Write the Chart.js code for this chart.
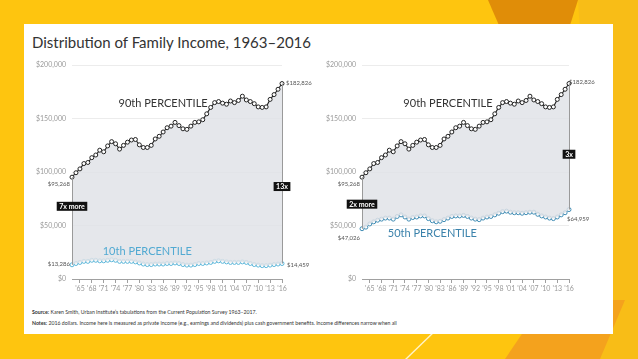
<!DOCTYPE html>
<html>
<head>
<meta charset="utf-8">
<script src="https://cdn.jsdelivr.net/npm/chart.js@4.4.1/dist/chart.umd.min.js"></script>
<style>
  html, body { margin: 0; padding: 0; }
  body { width: 638px; height: 359px; background: #fec50f; position: relative; overflow: hidden; font-family: Lato, "Open Sans", sans-serif; }
  .shape { position: absolute; }
  #card { position: absolute; left: 24px; top: 24px; width: 589px; height: 310px; background: #fff; }
  #title { position: absolute; left: 8px; top: 9px; font-size: 15px; color: #333; }
  canvas { position: absolute; }
  .note { position: absolute; left: 8px; font-size: 5.2px; color: #333; white-space: nowrap; }
  .note b { font-weight: 700; }
</style>
</head>
<body>
<div class="shape" style="left:0;top:0;width:638px;height:359px;background:#f8bd17;clip-path:polygon(578px 0,638px 0,638px 359px,600px 359px);"></div>
<div class="shape" style="left:0;top:0;width:638px;height:359px;background:#e08d08;clip-path:polygon(488px 0,578px 0,540px 120px);"></div>
<div class="shape" style="left:0;top:0;width:638px;height:359px;background:#f4a21d;clip-path:polygon(505px 359px,600px 359px,625px 300px,545px 300px);"></div>
<div class="shape" style="left:0;top:0;width:638px;height:359px;background:#fff3c8;clip-path:polygon(405px 359px,407px 359px,437px 330px,435px 330px);"></div>

<div id="card">
  <div id="title">Distribution of Family Income, 1963–2016</div>
  <canvas id="chart-left" width="296" height="250" style="left:6px;top:31px;"></canvas>
  <canvas id="chart-right" width="290" height="250" style="left:296px;top:31px;"></canvas>
  <div class="note" style="top:285px;"><b>Source:</b> Karen Smith, Urban Institute’s tabulations from the Current Population Survey 1963–2017.</div>
  <div class="note" style="top:296px;"><b>Notes:</b> 2016 dollars. Income here is measured as private income (e.g., earnings and dividends) plus cash government benefits. Income differences narrow when all</div>
</div>

<script>
const years = [];
for (let y = 1963; y <= 2016; y++) years.push(y);

const p90 = [95268, 99400, 103000, 108000, 109000, 113500, 116000, 120500, 119000, 124500,
  128500, 126500, 121500, 125000, 128000, 130000, 130500, 125500, 123000, 123000,
  125000, 131000, 133500, 137500, 141500, 143000, 146500, 143500, 140500, 140000,
  143000, 146500, 147000, 149000, 154500, 160500, 165000, 166000, 164500, 163500,
  166500, 165000, 167000, 171000, 167500, 166000, 164000, 161000, 160500, 161000,
  168000, 172500, 177500, 182826];

const p10 = [13286, 14500, 15500, 16500, 16500, 17500, 17500, 17000, 17000, 17500,
  18000, 17500, 16500, 16500, 16500, 16500, 16000, 15000, 14000, 13500,
  13500, 14000, 14000, 14000, 14500, 14500, 15000, 14500, 13500, 13000,
  13000, 13500, 14500, 14500, 15000, 15500, 16500, 17000, 16500, 16000,
  15500, 15500, 15500, 16000, 15500, 14500, 13500, 13000, 12500, 12500,
  13000, 13500, 14000, 14459];

const p50 = [47026, 48500, 51500, 53500, 55000, 56000, 57000, 57000, 56000, 58500,
  60000, 58000, 56000, 57500, 58000, 59000, 59000, 56500, 54500, 53500,
  54000, 55500, 57000, 58500, 59000, 59000, 59500, 58500, 57000, 56000,
  55500, 57000, 58000, 58500, 60000, 61500, 63000, 63500, 62500, 62000,
  62000, 61500, 62000, 62500, 62500, 60500, 59000, 58000, 57000, 56500,
  58000, 60000, 62000, 64959];

const yTicks = [0, 50000, 100000, 150000, 200000];

const FONT = "Lato, 'Open Sans', sans-serif";

// lines closing the shaded band at both ends
const edgeLines = {
  id: "edgeLines",
  afterDatasetsDraw(chart) {
    const top = chart.getDatasetMeta(0).data;
    const bot = chart.getDatasetMeta(1).data;
    const ctx = chart.ctx;
    ctx.save();
    ctx.strokeStyle = "#9a9a9a";
    ctx.lineWidth = 1;
    [0, top.length - 1].forEach((i) => {
      ctx.beginPath();
      ctx.moveTo(Math.round(top[i].x) + 0.5, top[i].y);
      ctx.lineTo(Math.round(bot[i].x) + 0.5, bot[i].y);
      ctx.stroke();
    });
    ctx.restore();
  },
};

// texts anchored in data space
const notes = {
  id: "notes",
  afterDraw(chart, args, opts) {
    const ctx = chart.ctx;
    const xs = chart.scales.x;
    const ys = chart.scales.y;
    ctx.save();
    (opts.items || []).forEach((it) => {
      const x = xs.getPixelForValue(years.indexOf(it.year)) + (it.dx || 0);
      const y = ys.getPixelForValue(it.value) + (it.dy || 0);
      ctx.font = it.font;
      ctx.textBaseline = "middle";
      if (it.box) {
        const w = ctx.measureText(it.text).width + 5;
        const h = 9;
        ctx.fillStyle = "#111";
        ctx.fillRect(x - w / 2, y - h / 2, w, h);
        ctx.fillStyle = "#fff";
        ctx.textAlign = "center";
        ctx.fillText(it.text, x, y + 0.5);
      } else {
        ctx.fillStyle = it.color;
        ctx.textAlign = it.align || "center";
        ctx.fillText(it.text, x, y);
      }
    });
    ctx.restore();
  },
};

const money = (v) => "$" + v.toLocaleString("en-US");

function makeChart(id, lower, lowColor, yWidth, padRight, items) {
  const ctx = document.getElementById(id).getContext("2d");
  return new Chart(ctx, {
    type: "line",
    data: {
      labels: years,
      datasets: [
        {
          label: "90th percentile",
          data: p90,
          borderColor: "#222",
          borderWidth: 1.1,
          pointRadius: 2,
          pointBorderWidth: 1,
          pointBackgroundColor: "#fff",
          pointBorderColor: "#222",
          fill: "+1",
          backgroundColor: "rgba(224,227,231,0.85)",
        },
        {
          label: "lower",
          data: lower,
          borderColor: lowColor,
          borderWidth: 1.1,
          pointRadius: 2,
          pointBorderWidth: 1,
          pointBackgroundColor: "#fff",
          pointBorderColor: lowColor,
          fill: false,
        },
      ],
    },
    options: {
      responsive: false,
      animation: false,
      devicePixelRatio: 1,
      layout: { padding: { top: 9, right: padRight, left: 0, bottom: 0 } },
      plugins: {
        legend: { display: false },
        tooltip: { enabled: false },
        notes: { items: items },
      },
      scales: {
        x: {
          afterFit: (s) => { s.height = 26; },
          grid: { drawOnChartArea: false, drawTicks: true, tickLength: 4, color: "#a0a0a0" },
          border: { color: "#a0a0a0" },
          ticks: {
            autoSkip: false,
            maxRotation: 0,
            padding: 2,
            color: "#9a9a9a",
            font: { family: FONT, size: 7 },
            callback: (v, i) => {
              const y = years[i];
              return y >= 1965 && (y - 1965) % 3 === 0 ? "'" + String(y).slice(2) : null;
            },
          },
        },
        y: {
          min: 0,
          max: 200000,
          afterFit: (s) => { s.width = yWidth; },
          afterBuildTicks: (s) => { s.ticks = yTicks.map((v) => ({ value: v })); },
          grid: { color: "#ececec", drawTicks: false },
          border: { display: false },
          ticks: {
            padding: 6,
            color: "#9a9a9a",
            font: { family: FONT, size: 7 },
            callback: (v) => money(v),
          },
        },
      },
    },
    plugins: [edgeLines, notes],
  });
}

const labelFont = "11px " + FONT;
const smallFont = "6px " + FONT;
const boxFont = "bold 7px " + FONT;

makeChart("chart-left", p10, "#5cb6d9", 42, 44, [
  { text: "90th PERCENTILE", year: 1986, value: 164000, color: "#333", font: labelFont },
  { text: "10th PERCENTILE", year: 1982, value: 26000, color: "#52aad2", font: labelFont },
  { text: "7x more", year: 1963, value: 68000, box: true, font: boxFont },
  { text: "13x", year: 2016, value: 86500, box: true, font: boxFont },
  { text: money(182826), year: 2016, value: 182826, dx: 4, align: "left", color: "#555", font: smallFont },
  { text: money(95268), year: 1963, value: 95268, dx: -2, dy: 7, align: "right", color: "#555", font: smallFont },
  { text: money(13286), year: 1963, value: 13286, dx: -2, dy: -1, align: "right", color: "#555", font: smallFont },
  { text: money(14459), year: 2016, value: 14459, dx: 5, dy: 2, align: "left", color: "#555", font: smallFont },
]);

makeChart("chart-right", p50, "#3f8bb3", 42, 41, [
  { text: "90th PERCENTILE", year: 1985, value: 164000, color: "#333", font: labelFont },
  { text: "50th PERCENTILE", year: 1981, value: 42800, color: "#3b82ab", font: labelFont },
  { text: "2x more", year: 1963, value: 70000, box: true, font: boxFont },
  { text: "3x", year: 2016, value: 116700, box: true, font: boxFont },
  { text: money(182826), year: 2016, value: 182826, dx: 0, dy: -1, align: "left", color: "#555", font: smallFont },
  { text: money(95268), year: 1963, value: 95268, dx: -2, dy: 7, align: "right", color: "#555", font: smallFont },
  { text: money(47026), year: 1963, value: 47026, dx: -2, dy: 9, align: "right", color: "#555", font: smallFont },
  { text: money(64959), year: 2016, value: 64959, dx: -2, dy: 10, align: "left", color: "#555", font: smallFont },
]);
</script>
</body>
</html>
